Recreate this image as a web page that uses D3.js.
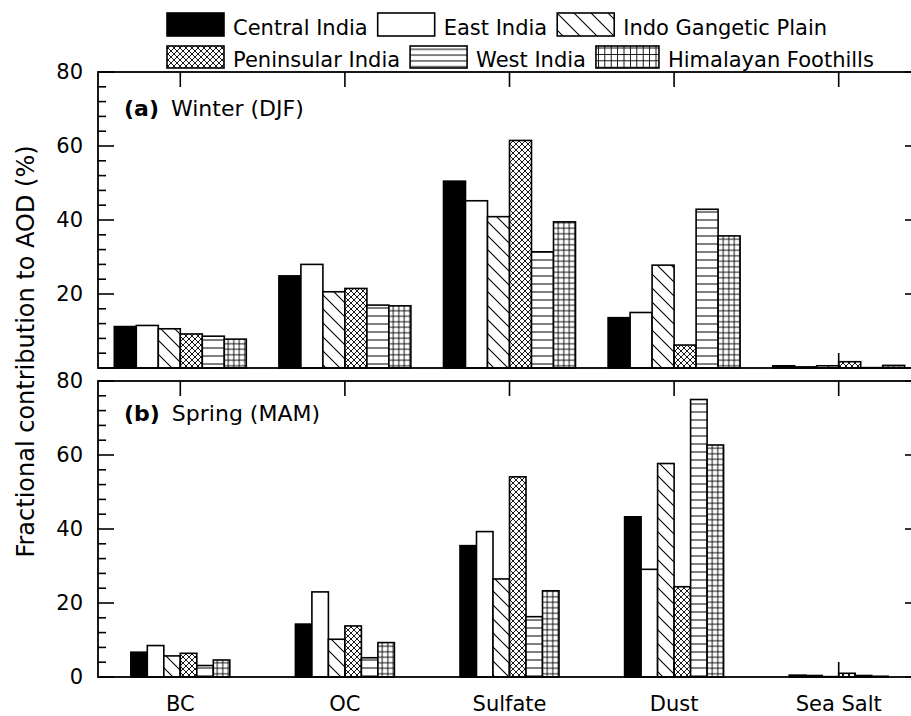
<!DOCTYPE html>
<html>
<head>
<meta charset="utf-8">
<script src="https://cdn.jsdelivr.net/npm/d3@7"></script>
<style>
  body { margin: 0; background: #fff; }
  svg { display: block; font-family: "DejaVu Sans", Verdana, sans-serif; }
</style>
</head>
<body>
<svg id="chart" width="911" height="716"></svg>
<script>
// ---------------- DATA ----------------
const categories = ["BC", "OC", "Sulfate", "Dust", "Sea Salt"];
const regions = ["Central India", "East India", "Indo Gangetic Plain",
                 "Peninsular India", "West India", "Himalayan Foothills"];

// Winter (DJF) values per category, in region order
const winterBC       = [11.2, 11.5, 10.6, 9.2, 8.6, 7.8];
const winterOC       = [24.9, 28.0, 20.6, 21.5, 17.0, 16.8];
const winterSulfate  = [50.5, 45.2, 40.9, 61.5, 31.4, 39.5];
const winterDust     = [13.6, 15.0, 27.8, 6.2, 42.9, 35.7];
const winterSeaSalt  = [0.6, 0.3, 0.6, 1.7, 0.1, 0.7];

// Spring (MAM) values per category, in region order
const springBC       = [6.7, 8.5, 5.7, 6.4, 3.1, 4.6];
const springOC       = [14.3, 23.0, 10.2, 13.8, 5.2, 9.3];
const springSulfate  = [35.5, 39.3, 26.5, 54.1, 16.3, 23.3];
const springDust     = [43.3, 29.1, 57.7, 24.4, 75.0, 62.7];
const springSeaSalt  = [0.5, 0.4, 0.1, 1.0, 0.4, 0.2];

const yMajorTicks = [0, 20, 40, 60, 80];
const panelLabels = [["(a)", "Winter (DJF)"], ["(b)", "Spring (MAM)"]];
const yTitle = "Fractional contribution to AOD (%)";

// ---------------- BUILD ----------------
const winterData = [winterBC, winterOC, winterSulfate, winterDust, winterSeaSalt];
const springData = [springBC, springOC, springSulfate, springDust, springSeaSalt];

const svg = d3.select("#chart");
const FONT = '"DejaVu Sans", Verdana, sans-serif';

const plotLeft = 98, plotRight = 921;
const x = d3.scaleBand().domain(categories).range([plotLeft, plotRight]);

const panels = [
  { data: winterData, top: 72, bottom: 368, groupW: 132, showZero: false, label: panelLabels[0], labelY: 116 },
  { data: springData, top: 381, bottom: 677, groupW: 99, showZero: true, label: panelLabels[1], labelY: 421 }
];

// Patterns
const defs = svg.append("defs");
function addPattern(id, w, h, draw) {
  const p = defs.append("pattern").attr("id", id)
    .attr("patternUnits", "userSpaceOnUse").attr("width", w).attr("height", h);
  p.append("rect").attr("width", w).attr("height", h).attr("fill", "#fff");
  draw(p);
}
function patternSet(suffix, diag, cross, hline, grid) {
  addPattern("diag" + suffix, diag, diag, p => p.append("path")
    .attr("d", `M0,0L${diag},${diag}M${-diag/2},${diag/2}L${diag/2},${diag*1.5}M${diag/2},${-diag/2}L${diag*1.5},${diag/2}`)
    .attr("stroke", "#000").attr("stroke-width", 1.1));
  addPattern("cross" + suffix, cross, cross, p => p.append("path")
    .attr("d", `M0,0L${cross},${cross}M${cross},0L0,${cross}M${-cross/2},${cross/2}L${cross/2},${cross*1.5}M${cross/2},${-cross/2}L${cross*1.5},${cross/2}M${cross/2},${-cross/2}L${-cross/2},${cross/2}M${cross*1.5},${cross/2}L${cross/2},${cross*1.5}`)
    .attr("stroke", "#000").attr("stroke-width", 0.9));
  addPattern("hline" + suffix, 10, hline, p => p.append("path")
    .attr("d", `M0,${hline/2}L10,${hline/2}`)
    .attr("stroke", "#000").attr("stroke-width", 1));
  addPattern("grid" + suffix, grid, grid, p => p.append("path")
    .attr("d", `M0,${grid/2}L${grid},${grid/2}M${grid/2},0L${grid/2},${grid}`)
    .attr("stroke", "#000").attr("stroke-width", 0.9));
}
patternSet("", 14, 6, 8, 5.5);
patternSet("L", 17, 6, 5.8, 6.4);

const fills = ["#000", "#fff", "url(#diag)", "url(#cross)", "url(#hline)", "url(#grid)"];
const legendFills = ["#000", "#fff", "url(#diagL)", "url(#crossL)", "url(#hlineL)", "url(#gridL)"];

const minorTicks = d3.range(0, 81, 4).filter(v => v % 20 !== 0);

panels.forEach(panel => {
  const y = d3.scaleLinear().domain([0, 80]).range([panel.bottom, panel.top]);
  const xs = d3.scaleBand().domain(regions).range([0, panel.groupW]);
  const g = svg.append("g");

  // bars
  categories.forEach((cat, ci) => {
    const cx = x(cat) + x.bandwidth() / 2;
    g.selectAll(null).data(panel.data[ci].map((v, ri) => ({ v, ri })))
      .enter().append("rect")
      .attr("x", d => cx - panel.groupW / 2 + xs(regions[d.ri]))
      .attr("y", d => y(d.v))
      .attr("width", xs.bandwidth())
      .attr("height", d => y(0) - y(d.v))
      .attr("fill", d => fills[d.ri])
      .attr("stroke", "#000").attr("stroke-width", 1.6);
  });

  // frame
  g.append("rect").attr("x", plotLeft).attr("y", panel.top)
    .attr("width", plotRight - plotLeft).attr("height", panel.bottom - panel.top)
    .attr("fill", "none").attr("stroke", "#000").attr("stroke-width", 1.8);

  // left axis
  const left = d3.axisLeft(y).tickValues(yMajorTicks.filter(v => panel.showZero || v !== 0))
    .tickSize(0).tickPadding(15).tickFormat(d3.format("d"));
  const la = g.append("g").attr("transform", `translate(${plotLeft},0)`).call(left);
  la.select(".domain").remove();
  la.selectAll("text").attr("font-size", 21).attr("font-family", FONT).attr("fill", "#000");

  // inward y ticks (left and right)
  [[plotLeft, 1], [plotRight, -1]].forEach(([px, dir]) => {
    g.selectAll(null).data(yMajorTicks).enter().append("line")
      .attr("x1", px).attr("x2", px + dir * 16)
      .attr("y1", d => y(d)).attr("y2", d => y(d))
      .attr("stroke", "#000").attr("stroke-width", 1.6);
    g.selectAll(null).data(minorTicks).enter().append("line")
      .attr("x1", px).attr("x2", px + dir * 8)
      .attr("y1", d => y(d)).attr("y2", d => y(d))
      .attr("stroke", "#000").attr("stroke-width", 1.6);
  });

  // inward x ticks (top and bottom)
  [[panel.top, 1], [panel.bottom, -1]].forEach(([py, dir]) => {
    g.selectAll(null).data(categories).enter().append("line")
      .attr("x1", d => x(d) + x.bandwidth() / 2).attr("x2", d => x(d) + x.bandwidth() / 2)
      .attr("y1", py).attr("y2", py + dir * 15)
      .attr("stroke", "#000").attr("stroke-width", 1.6);
  });

  // panel label
  const t = g.append("text").attr("x", 124).attr("y", panel.labelY)
    .attr("font-size", 22).attr("fill", "#000");
  t.append("tspan").attr("font-weight", "bold").text(panel.label[0]);
  t.append("tspan").attr("dx", 12).text(panel.label[1]);
});

// x axis labels (bottom)
const xb = d3.axisBottom(x).tickSize(0).tickPadding(0);
const xa = svg.append("g").attr("transform", "translate(0,677)").call(xb);
xa.select(".domain").remove();
xa.selectAll("text").attr("font-size", 21).attr("font-family", FONT)
  .attr("fill", "#000").attr("dy", null).attr("y", 34);

// y title
svg.append("text")
  .attr("transform", `translate(34,${(72 + 677) / 2 - 23}) rotate(-90)`)
  .attr("text-anchor", "middle").attr("font-size", 24).attr("fill", "#000")
  .text(yTitle);

// legend (flow layout, two rows)
const legendRows = [[0, 1, 2], [3, 4, 5]];
const rowY = [[13, 36, 35], [46, 68, 67]];
legendRows.forEach((row, r) => {
  let cx = 167;
  row.forEach(ri => {
    const [y0, y1, base] = rowY[r];
    const sw = ri === 5 ? 63 : 57;
    svg.append("rect").attr("x", cx).attr("y", y0).attr("width", sw).attr("height", y1 - y0)
      .attr("fill", legendFills[ri]).attr("stroke", "#000").attr("stroke-width", 1.6);
    const txt = svg.append("text").attr("x", cx + sw + 9).attr("y", base)
      .attr("font-size", 21).attr("fill", "#000").text(regions[ri]);
    cx = cx + sw + 9 + txt.node().getComputedTextLength() + 10;
  });
});
</script>
</body>
</html>
